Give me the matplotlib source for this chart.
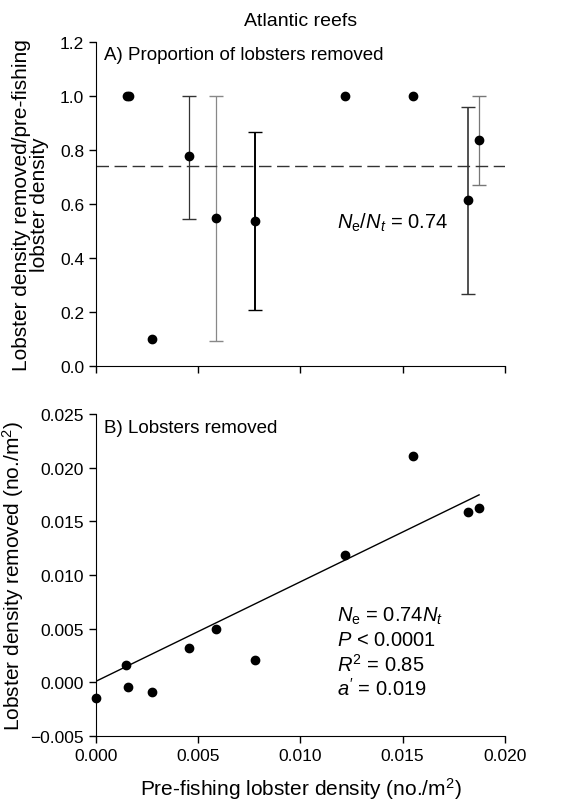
import matplotlib
matplotlib.use("Agg")
import matplotlib.pyplot as plt
import numpy as np

plt.rcParams['font.family'] = ['Liberation Sans', 'DejaVu Sans']
plt.rcParams['mathtext.fontset'] = 'custom'
plt.rcParams['mathtext.rm'] = 'Liberation Sans'
plt.rcParams['mathtext.it'] = 'Liberation Sans:italic'

# A) proportion removed, with error bars (lower/upper bounds)
prop_x = [0.0015, 0.0016, 0.00275, 0.00453, 0.00587, 0.00776, 0.0122, 0.01553, 0.01822, 0.01874]
prop_y = [1.0, 1.0, 0.10, 0.776, 0.548, 0.538, 1.0, 1.0, 0.616, 0.836]
err_x = [0.00453, 0.00587, 0.00776, 0.01822, 0.01874]
err_y = [0.776, 0.548, 0.538, 0.616, 0.836]
err_lo = [0.544, 0.093, 0.208, 0.268, 0.670]
err_hi = [1.0, 1.0, 0.868, 0.959, 1.0]
err_col = ['#333333', '#888888', '#000000', '#333333', '#777777']
err_lw = [0.9, 0.9, 1.4, 1.2, 0.9]
ratio = 0.74

# B) lobsters removed vs pre-fishing density
rem_x = [0.0, 0.00148, 0.00155, 0.00275, 0.00453, 0.00587, 0.00776, 0.0122, 0.01553, 0.01822, 0.01874]
rem_y = [-0.0015, 0.00159, -0.00044, -0.00093, 0.0032, 0.00494, 0.00205, 0.01185, 0.02111, 0.01583, 0.01626]
fit_x = [0.0, 0.01874]
fit_y = [0.0001, 0.01747]

fig = plt.figure(figsize=(5.85, 8.04), dpi=100)
ax1 = fig.add_axes([0.164, 0.5435, 0.699, 0.403])
ax2 = fig.add_axes([0.164, 0.0833, 0.699, 0.4005])

for ax in (ax1, ax2):
    ax.spines['top'].set_visible(False)
    ax.spines['right'].set_visible(False)
    ax.tick_params(direction='out', length=5, width=1, labelsize=12.5)
    ax.set_xlim(0, 0.02)
    ax.set_xticks([0, 0.005, 0.010, 0.015, 0.020])

# top panel
for x, y, lo, hi, c, lw in zip(err_x, err_y, err_lo, err_hi, err_col, err_lw):
    ax1.errorbar([x], [y], yerr=[[y - lo], [hi - y]], fmt='none', ecolor=c,
                 elinewidth=lw, capsize=5, capthick=1)
ax1.plot(prop_x, prop_y, 'o', color='black', markersize=6, zorder=3)
ax1.axhline(ratio, color='#333333', lw=1, dashes=(9, 4))
ax1.set_ylim(0, 1.2)
ax1.set_yticks(np.arange(0, 1.21, 0.2))
ax1.set_yticklabels(['0.0', '0.2', '0.4', '0.6', '0.8', '1.0', '1.2'])
ax1.set_xticklabels([])
ax1.set_ylabel('Lobster density removed/pre-fishing\nlobster density', fontsize=15,
               labelpad=8, linespacing=0.95)
ax1.text(0.0004, 1.155, 'A) Proportion of lobsters removed', fontsize=13.5, va='center')
ax1.text(0.0118, 0.533, r'$N_\mathrm{e}/N_t$ = 0.74', fontsize=14.5, va='center')
ax1.set_title('Atlantic reefs', fontsize=14, pad=12)

# bottom panel
ax2.plot(fit_x, fit_y, color='black', lw=1)
ax2.plot(rem_x, rem_y, 'o', color='black', markersize=6, zorder=3, clip_on=False)
ax2.set_ylim(-0.005, 0.025)
ax2.set_yticks([-0.005, 0, 0.005, 0.010, 0.015, 0.020, 0.025])
ax2.set_yticklabels(['\u22120.005', '0.000', '0.005', '0.010', '0.015', '0.020', '0.025'])
ax2.set_xticklabels(['0.000', '0.005', '0.010', '0.015', '0.020'])
ax2.set_ylabel('Lobster density removed (no./m$^2$)', fontsize=15, labelpad=3)
ax2.set_xlabel('Pre-fishing lobster density (no./m$^2$)', fontsize=15, labelpad=9)
ax2.text(0.0004, 0.0237, 'B) Lobsters removed', fontsize=13.5, va='center')
stats = [r'$N_\mathrm{e}$ = 0.74$N_t$', r'$P$ < 0.0001', r'$R^2$ = 0.85', r"$a'$ = 0.019"]
for i, s in enumerate(stats):
    ax2.text(0.0118, 0.0062 - i * 0.00225, s, fontsize=14.5, va='center')

fig.savefig('out.png', dpi=100)
